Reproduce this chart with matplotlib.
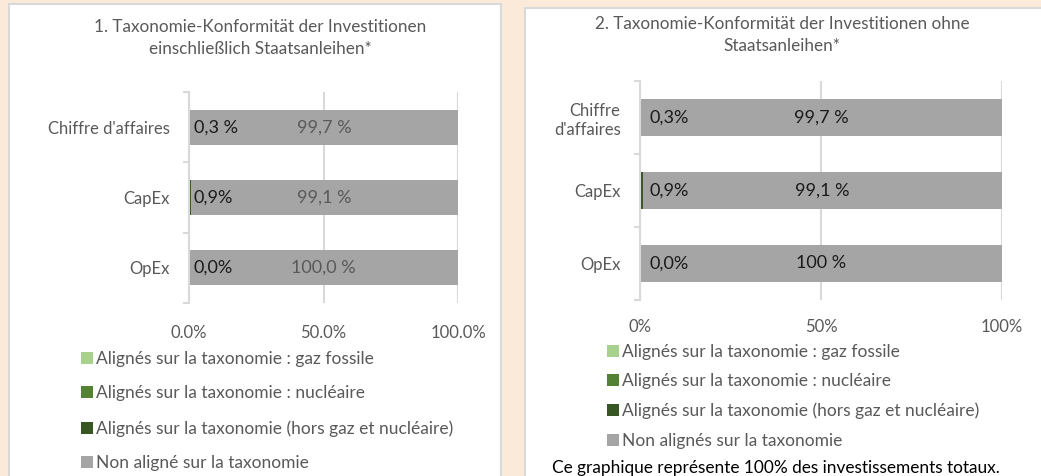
import matplotlib.pyplot as plt
from matplotlib.patches import Rectangle, Patch

plt.rcParams['font.family'] = ['Lato', 'DejaVu Sans']

# donnees
categories = ["Chiffre d'affaires", "CapEx", "OpEx"]
categories_r = ["Chiffre\nd'affaires", "CapEx", "OpEx"]
gaz_fossile = [0.0, 0.0, 0.0]
nucleaire = [0.0, 0.0, 0.0]
alignes = [0.3, 0.9, 0.0]
non_alignes = [99.7, 99.1, 100.0]

lab_alignes_l = ["0,3 %", "0,9%", "0,0%"]
lab_non_l = ["99,7 %", "99,1 %", "100,0 %"]
lab_alignes_r = ["0,3%", "0,9%", "0,0%"]
lab_non_r = ["99,7 %", "99,1 %", "100 %"]

xticks_l = ["0.0%", "50.0%", "100.0%"]
xticks_r = ["0%", "50%", "100%"]

titre_l = "1. Taxonomie-Konformität der Investitionen\neinschließlich Staatsanleihen*"
titre_r = "2. Taxonomie-Konformität der Investitionen ohne\nStaatsanleihen*"

leg_l = ["Alignés sur la taxonomie : gaz fossile",
         "Alignés sur la taxonomie : nucléaire",
         "Alignés sur la taxonomie (hors gaz et nucléaire)",
         "Non aligné sur la taxonomie"]
leg_r = ["Alignés sur la taxonomie : gaz fossile",
         "Alignés sur la taxonomie : nucléaire",
         "Alignés sur la taxonomie (hors gaz et nucléaire)",
         "Non alignés sur la taxonomie"]
note = "Ce graphique représente 100% des investissements totaux."

couleurs = ['#A9D18E', '#548235', '#375623', '#A5A5A5']
gris_txt = '#595959'
grille = '#D9D9D9'

W, H = 1041, 476
fig = plt.figure(figsize=(W / 100, H / 100), dpi=100)
fig.patch.set_facecolor('#FBEADA')

def fx(px):
    return px / W

def fy(py):
    return 1 - py / H

# panneaux blancs
for x0, y0, x1, y1 in [(9, 4, 501, 490), (525, 8, 1050, 490)]:
    fig.patches.append(Rectangle((fx(x0), fy(y1)), fx(x1 - x0), (y1 - y0) / H,
                                 transform=fig.transFigure, facecolor='white',
                                 edgecolor=grille, lw=1.5, zorder=-5))

def graphique(box, cats, xlabs, lab_a, lab_n, col_n, off_a, ypad):
    x0, y0, x1, y1 = box
    ax = fig.add_axes([fx(x0), fy(y1), fx(x1 - x0), (y1 - y0) / H])
    ax.set_facecolor('none')
    pos = range(len(cats))
    gauche = [0.0] * len(cats)
    for vals, c in zip([gaz_fossile, nucleaire, alignes, non_alignes], couleurs):
        ax.barh(pos, vals, left=gauche, height=0.5, color=c, zorder=2)
        gauche = [g + v for g, v in zip(gauche, vals)]
    for i in pos:
        ax.annotate(lab_a[i], (0, i), xytext=(off_a, 0), textcoords='offset pixels',
                    ha='left', va='center', fontsize=13, color='#1a1a1a', zorder=3)
        ax.text(alignes[i] + non_alignes[i] / 2, i, lab_n[i], ha='center', va='center',
                fontsize=13, color=col_n, zorder=3)
    ax.set_xlim(0, 100)
    ax.set_ylim(2.5, -0.5)
    ax.set_xticks([0, 50, 100])
    ax.set_xticklabels(xlabs)
    ax.set_yticks(list(pos))
    ax.set_yticklabels(cats)
    ax.set_yticks([-0.5, 0.5, 1.5, 2.5], minor=True)
    ax.grid(axis='x', color=grille, lw=1.5, zorder=0)
    ax.tick_params(axis='x', length=0, pad=ypad, labelsize=12, labelcolor=gris_txt)
    ax.tick_params(axis='y', which='major', length=0, pad=14, labelsize=12, labelcolor=gris_txt)
    ax.tick_params(axis='y', which='minor', length=4.5, width=1.5, color=grille)
    for s in ['top', 'right', 'bottom']:
        ax.spines[s].set_visible(False)
    ax.spines['left'].set_color(grille)
    ax.spines['left'].set_linewidth(1.5)
    return ax

graphique((189, 92, 458, 303), categories, xticks_l, lab_alignes_l, lab_non_l, gris_txt, 5, 16)
graphique((640, 81, 1002, 300), categories_r, xticks_r, lab_alignes_r, lab_non_r, '#1a1a1a', 9, 14)

fig.text(fx(260), fy(38), titre_l, ha='center', va='center', fontsize=12.3,
         color=gris_txt, linespacing=1.4)
fig.text(fx(782), fy(35), titre_r, ha='center', va='center', fontsize=12.3,
         color=gris_txt, linespacing=1.5)

poignees = [Patch(facecolor=c) for c in couleurs]
fig.legend(poignees, leg_l, loc='upper left', bbox_to_anchor=(fx(72), fy(342)),
           frameon=False, fontsize=12.5, labelcolor=gris_txt, handlelength=0.7,
           handleheight=0.7, handletextpad=0.2, labelspacing=1.08, borderpad=0)
fig.legend(poignees, leg_r, loc='upper left', bbox_to_anchor=(fx(598), fy(335)),
           frameon=False, fontsize=12.5, labelcolor=gris_txt, handlelength=0.7,
           handleheight=0.7, handletextpad=0.2, labelspacing=0.78, borderpad=0)
fig.text(fx(776), fy(468), note, ha='center', va='center', fontsize=12.4, color='black')

fig.savefig('out.png', dpi=100)
